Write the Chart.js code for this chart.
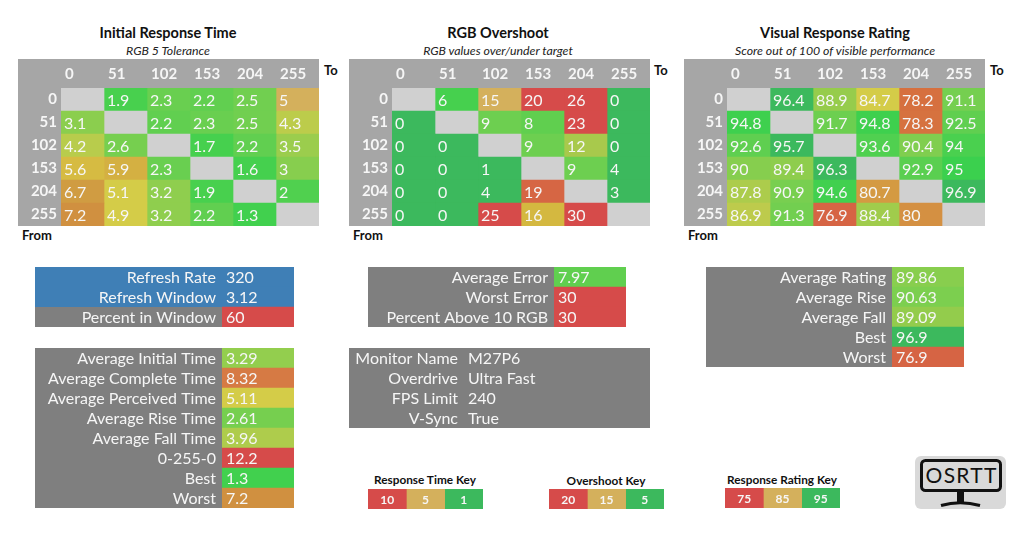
<!DOCTYPE html>
<html><head><meta charset="utf-8">
<script src="https://cdn.jsdelivr.net/npm/chart.js@4/dist/chart.umd.min.js"></script>
<style>
html,body{margin:0;padding:0;background:#fff;width:1024px;height:552px;overflow:hidden;font-family:Lato,sans-serif}
canvas{position:absolute;display:block}
.t{position:absolute;white-space:nowrap;color:#111;transform:translate(-50%,-50%)}
.h{font-weight:700;font-size:14.5px}
.s{font-style:italic;font-size:12.3px;color:#222}
.k{font-weight:700;font-size:11.8px}
.c{font-weight:700;font-size:13px;transform:translate(0,-50%)}
</style></head><body>
<script>
// ---------- data ----------
const toLabels = ['0','51','102','153','204','255'];
const fromLabels = ['0','51','102','153','204','255'];

const initial0   = [null,1.9,2.3,2.2,2.5,5];
const initial51  = [3.1,null,2.2,2.3,2.5,4.3];
const initial102 = [4.2,2.6,null,1.7,2.2,3.5];
const initial153 = [5.6,5.9,2.3,null,1.6,3];
const initial204 = [6.7,5.1,3.2,1.9,null,2];
const initial255 = [7.2,4.9,3.2,2.2,1.3,null];

const over0   = [null,6,15,20,26,0];
const over51  = [0,null,9,8,23,0];
const over102 = [0,0,null,9,12,0];
const over153 = [0,0,1,null,9,4];
const over204 = [0,0,4,19,null,3];
const over255 = [0,0,25,16,30,null];

const rate0   = [null,96.4,88.9,84.7,78.2,91.1];
const rate51  = [94.8,null,91.7,94.8,78.3,92.5];
const rate102 = [92.6,95.7,null,93.6,90.4,94];
const rate153 = [90,89.4,96.3,null,92.9,95];
const rate204 = [87.8,90.9,94.6,80.7,null,96.9];
const rate255 = [86.9,91.3,76.9,88.4,80,null];

const refreshLabels = ['Refresh Rate','Refresh Window','Percent in Window'];
const refreshValues = [320,3.12,60];
const timeLabels = ['Average Initial Time','Average Complete Time','Average Perceived Time','Average Rise Time','Average Fall Time','0-255-0','Best','Worst'];
const timeValues = [3.29,8.32,5.11,2.61,3.96,12.2,1.3,7.2];
const errorLabels = ['Average Error','Worst Error','Percent Above 10 RGB'];
const errorValues = [7.97,30,30];
const monitorLabels = ['Monitor Name','Overdrive','FPS Limit','V-Sync'];
const monitorValues = ['M27P6','Ultra Fast','240','True'];
const ratingLabels = ['Average Rating','Average Rise','Average Fall','Best','Worst'];
const ratingValues = [89.86,90.63,89.09,96.9,76.9];
const timeKey = [10,5,1];
const overKey = [20,15,5];
const rateKey = [75,85,95];

// ---------- colour ramps ----------
const RED='#d64b4a', MID='#d4b05c', GREEN='#3cb95d', BLUE='#3f7fb6', GREY='#7f7f7f', EMPTY='#d0d0d0', HEAD='#a6a6a6';
const timeRamp = [[1,'#3cb95d'],[1.2,'#40d04e'],[1.9,'#48d04e'],[2.3,'#69cf50'],[3.2,'#8fce4e'],[4.2,'#b8cc4c'],[4.9,'#d4cc48'],[5,'#d4b05c'],[5.1,'#d4cc48'],[5.6,'#d6bb42'],[5.9,'#d4b042'],[6.7,'#d09c42'],[7.2,'#d09040'],[8.32,'#d67a44'],[10,'#d65c48'],[12,'#d64b4a']];
const overRamp = [[5,'#3cb95d'],[6,'#46d04e'],[9,'#6dcf50'],[12,'#a8c94c'],[15,'#d4b05c'],[16,'#d4b840'],[19,'#d66644'],[20,'#d64b4a']];
const rateRamp = [[75,'#d64b4a'],[76.9,'#d66444'],[78.2,'#d6703f'],[80,'#d49042'],[80.7,'#d49a42'],[84.7,'#d4cc48'],[87,'#bccb4c'],[88,'#a8cc4c'],[89,'#94cc4c'],[90,'#86ce4e'],[91,'#76cf50'],[92.5,'#60cf50'],[93.6,'#50d050'],[95,'#3bd04e'],[95.6,'#3cb95d']];
function hex(c){return [1,3,5].map(i=>parseInt(c.substr(i,2),16));}
function ramp(stops,v){
  if(v<=stops[0][0])return stops[0][1];
  for(let i=1;i<stops.length;i++){
    if(v<=stops[i][0]){
      const t=(v-stops[i-1][0])/(stops[i][0]-stops[i-1][0]);
      const a=hex(stops[i-1][1]),b=hex(stops[i][1]);
      return 'rgb('+a.map((x,j)=>Math.round(x+(b[j]-x)*t)).join(',')+')';
    }
  }
  return stops[stops.length-1][1];
}

// ---------- shared plugin: cell texts and row bands ----------
const cellPlugin={
  id:'cells',
  beforeDraw(ch,_,o){
    if(!o.bands)return;
    const y=ch.scales.y,ctx=ch.ctx;
    const step=y.getPixelForTick(1)-y.getPixelForTick(0);
    ctx.save();
    o.bands.forEach((col,i)=>{
      if(!col)return;
      ctx.fillStyle=col;
      ctx.fillRect(0,y.getPixelForTick(i)-step/2,ch.width,step);
    });
    ctx.restore();
  },
  afterDatasetsDraw(ch,_,o){
    const ctx=ch.ctx;
    ctx.save();
    ctx.fillStyle=o.color||'#f6f6f6';
    ctx.font=o.font;
    ctx.textBaseline='middle';
    ch.data.datasets.forEach((ds,di)=>{
      ch.getDatasetMeta(di).data.forEach((el,i)=>{
        const v=ds.data[i].v;
        if(v===null||v===undefined)return;
        if(o.center){ctx.textAlign='center';ctx.fillText(String(v),(el.base+el.x)/2,el.y+1);}
        else{ctx.textAlign='left';ctx.fillText(String(v),el.base+o.pad,el.y+1);}
      });
    });
    ctx.restore();
  }
};

function place(r,bg){
  const c=document.createElement('canvas');
  c.style.left=r.l+'px';c.style.top=r.t+'px';c.style.width=r.w+'px';c.style.height=r.h+'px';
  c.width=r.w;c.height=r.h;c.style.background=bg;
  document.body.appendChild(c);
  return c;
}
function noPad(s){s.paddingTop=0;s.paddingBottom=0;s.paddingLeft=0;s.paddingRight=0;}
const noGrid={grid:{display:false,drawTicks:false},border:{display:false}};
const baseOpts={responsive:false,animation:false,indexAxis:'y',devicePixelRatio:1,
  layout:{autoPadding:false,padding:0},
  events:[],
  datasets:{bar:{barPercentage:1,categoryPercentage:1,grouped:false,borderWidth:0,borderSkipped:false}}};

function heatmap(r,rows,stops){
  const datasets=toLabels.map((_,c)=>({
    data:fromLabels.map((f,i)=>({x:[c,c+1],y:f,v:rows[i][c]})),
    backgroundColor:fromLabels.map((f,i)=>rows[i][c]===null?EMPTY:ramp(stops,rows[i][c]))
  }));
  new Chart(place(r,HEAD),{type:'bar',data:{labels:fromLabels,datasets},plugins:[cellPlugin],options:{...baseOpts,
    plugins:{legend:{display:false},tooltip:{enabled:false},cells:{font:'16px Lato',pad:3}},
    scales:{
      x:{...noGrid,type:'linear',position:'top',min:0,max:toLabels.length,
        afterFit(s){s.height=29;noPad(s);},
        ticks:{stepSize:1,align:'start',labelOffset:4,padding:5,autoSkip:false,maxRotation:0,color:'#f6f6f6',font:{family:'Lato',size:15,weight:'700'},
          callback:v=>toLabels[v]||''}},
      y:{...noGrid,type:'category',afterFit(s){s.width=43;noPad(s);},
        ticks:{padding:4,autoSkip:false,color:'#f6f6f6',font:{family:'Lato',size:15,weight:'700'}}}
    }}});
}
function panel(r,labels,values,labelW,colors,bands){
  const datasets=[{data:labels.map((l,i)=>({x:[0,1],y:l,v:values[i]})),backgroundColor:colors}];
  new Chart(place(r,GREY),{type:'bar',data:{labels,datasets},plugins:[cellPlugin],options:{...baseOpts,
    plugins:{legend:{display:false},tooltip:{enabled:false},cells:{font:'16px Lato',pad:4,bands}},
    scales:{
      x:{...noGrid,display:false,type:'linear',min:0,max:1},
      y:{...noGrid,type:'category',afterFit(s){s.width=labelW;noPad(s);},
        ticks:{padding:6,labelOffset:1,color:'#f6f6f6',autoSkip:false,font:{family:'Lato',size:16}}}
    }}});
}
function keyBar(r,values){
  const lab=['key'];
  const datasets=values.map((v,c)=>({data:[{x:[c,c+1],y:'key',v}],backgroundColor:[RED,MID,GREEN][c]}));
  new Chart(place(r,'#fff'),{type:'bar',data:{labels:lab,datasets},plugins:[cellPlugin],options:{...baseOpts,
    plugins:{legend:{display:false},tooltip:{enabled:false},cells:{font:'700 12px Lato',center:true}},
    scales:{x:{display:false,type:'linear',min:0,max:values.length},y:{display:false,type:'category'}}}});
}
function text(cls,str,x,y){
  const d=document.createElement('div');d.className='t '+cls;d.textContent=str;
  d.style.left=x+'px';d.style.top=y+'px';document.body.appendChild(d);
}

// ---------- heatmaps ----------
heatmap({l:18,t:59,w:301,h:167},[initial0,initial51,initial102,initial153,initial204,initial255],timeRamp);
heatmap({l:349,t:59,w:301,h:167},[over0,over51,over102,over153,over204,over255],overRamp);
heatmap({l:684,t:59,w:301,h:167},[rate0,rate51,rate102,rate153,rate204,rate255],rateRamp);

text('h','Initial Response Time',168,32);
text('s','RGB 5 Tolerance',168,50);
text('h','RGB Overshoot',498,32);
text('s','RGB values over/under target',498,50);
text('h','Visual Response Rating',835,32);
text('s','Score out of 100 of visible performance',835,50);
[[324,70],[654,70],[990,70]].forEach(p=>text('c','To',p[0],p[1]));
[[22,235],[353,235],[688,235]].forEach(p=>text('c','From',p[0],p[1]));

// ---------- panels ----------
panel({l:35,t:267,w:259,h:60},refreshLabels,refreshValues,187,[BLUE,BLUE,RED],[BLUE,BLUE,null]);
panel({l:35,t:348,w:259,h:160},timeLabels,timeValues,187,timeValues.map(v=>ramp(timeRamp,v)));
panel({l:368,t:267,w:258,h:60},errorLabels,errorValues,186,errorValues.map(v=>ramp(overRamp,v)));
panel({l:349,t:348,w:301,h:80},monitorLabels,monitorValues,115,monitorValues.map(()=>GREY));
panel({l:706,t:267,w:258,h:100},ratingLabels,ratingValues,186,ratingValues.map(v=>ramp(rateRamp,v)));

// ---------- keys ----------
keyBar({l:368,t:489,w:115,h:20},timeKey);
keyBar({l:549,t:489,w:115,h:20},overKey);
keyBar({l:725,t:488,w:115,h:20},rateKey);
text('k','Response Time Key',425,479);
text('k','Overshoot Key',606,480);
text('k','Response Rating Key',782,479);
</script>
<svg style="position:absolute;left:915px;top:456px" width="91" height="53" viewBox="0 0 91 53">
<rect width="91" height="53" rx="6" fill="#d9d9d9"/>
<rect x="6.5" y="4.5" width="79" height="30" rx="4" fill="none" stroke="#111" stroke-width="3"/>
<rect x="42" y="36" width="7" height="12" fill="#111"/>
<path d="M26 49.5 Q45 44 65 49.5" fill="none" stroke="#111" stroke-width="3"/>
<text x="46" y="27" text-anchor="middle" font-family="Lato" font-weight="400" font-size="21" fill="#111" textLength="71" lengthAdjust="spacing">OSRTT</text>
</svg>
</body></html>
